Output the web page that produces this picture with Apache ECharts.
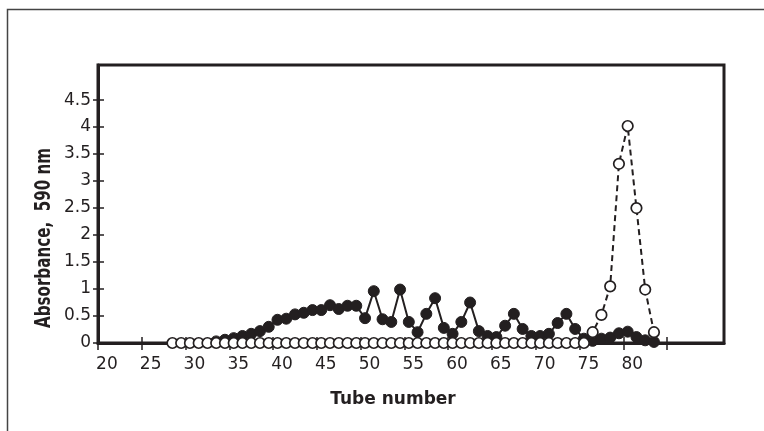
<!DOCTYPE html>
<html>
<head>
<meta charset="utf-8">
<script src="https://cdn.jsdelivr.net/npm/echarts@6/dist/echarts.min.js"></script>
<style>
  html, body { margin: 0; padding: 0; background: #fff; }
  #chart { width: 764px; height: 431px; }
</style>
</head>
<body>
<div id="chart"></div>
<script>
// open circles (dashed line)
var openTubes = [28, 29, 30, 31, 32, 33, 34, 35, 36, 37, 38, 39, 40, 41, 42, 43, 44, 45, 46, 47,
    48, 49, 50, 51, 52, 53, 54, 55, 56, 57, 58, 59, 60, 61, 62, 63, 64, 65, 66, 67,
    68, 69, 70, 71, 72, 73, 74, 75, 76, 77, 78, 79, 80, 81, 82, 83];
var openValues = [0, 0, 0, 0, 0, 0, 0, 0, 0, 0, 0, 0, 0, 0, 0, 0, 0, 0, 0, 0,
    0, 0, 0, 0, 0, 0, 0, 0, 0, 0, 0, 0, 0, 0, 0, 0, 0, 0, 0, 0,
    0, 0, 0, 0, 0, 0, 0, 0, 0.2, 0.52, 1.05, 3.32, 4.02, 2.5, 0.99, 0.2];

// filled circles (solid line)
var filledTubes = [33, 34, 35, 36, 37, 38, 39, 40, 41, 42, 43, 44, 45, 46, 47, 48, 49, 50, 51, 52,
    53, 54, 55, 56, 57, 58, 59, 60, 61, 62, 63, 64, 65, 66, 67, 68, 69, 70, 71, 72,
    73, 74, 75, 76, 77, 78, 79, 80, 81, 82, 83];
var filledValues = [0.03, 0.06, 0.09, 0.13, 0.17, 0.22, 0.3, 0.43, 0.45, 0.53,
    0.56, 0.61, 0.61, 0.7, 0.63, 0.69, 0.69, 0.46, 0.96, 0.44,
    0.39, 0.99, 0.39, 0.2, 0.54, 0.83, 0.28, 0.17, 0.39, 0.75,
    0.22, 0.13, 0.11, 0.32, 0.54, 0.26, 0.13, 0.13, 0.17, 0.37,
    0.54, 0.26, 0.08, 0.04, 0.08, 0.1, 0.18, 0.21, 0.11, 0.05, 0.02];

var xLabels = [20, 25, 30, 35, 40, 45, 50, 55, 60, 65, 70, 75, 80];
var xTicks = [19.5, 24.5, 29.5, 34.5, 39.5, 44.5, 49.5, 54.5, 59.5, 64.5, 69.5, 74.5, 79.5, 84.5];
var yTicks = [0, 0.5, 1, 1.5, 2, 2.5, 3, 3.5, 4, 4.5];

var ink = '#231f20';
var labelFont = { fontFamily: 'DejaVu Sans', fontSize: 17, color: ink };

function pairs(xs, ys) {
    return xs.map(function(x, i) { return [x, ys[i]]; });
}

var chart = echarts.init(document.getElementById('chart'));
chart.setOption({
    backgroundColor: '#fff',
    animation: false,
    grid: {
        left: 98, right: 40, top: 65, bottom: 88,
        show: true, borderColor: ink, borderWidth: 3
    },
    xAxis: [{
        type: 'value', min: 19.5, max: 91,
        axisLine: { show: true, lineStyle: { color: ink, width: 3 } },
        axisTick: { show: true, length: 7, customValues: xTicks, lineStyle: { color: ink, width: 1.5 } },
        axisLabel: Object.assign({ customValues: xLabels, margin: 13, padding: [0, 0, 0, 9] }, labelFont),
        splitLine: { show: false }
    }, {
        type: 'value', min: 19.5, max: 91, position: 'bottom',
        axisLine: { show: false },
        axisTick: { show: true, inside: true, length: 6, customValues: xTicks.slice(1), lineStyle: { color: ink, width: 1.5 } },
        axisLabel: { show: false },
        splitLine: { show: false }
    }],
    yAxis: [{
        type: 'value', min: 0, max: 5.15,
        axisLine: { show: true, lineStyle: { color: ink, width: 3 } },
        axisTick: { show: true, length: 5, customValues: yTicks, lineStyle: { color: ink, width: 1.5 } },
        axisLabel: Object.assign({ customValues: yTicks, margin: 7 }, labelFont),
        splitLine: { show: false }
    }, {
        type: 'value', min: 0, max: 5.15, position: 'left',
        axisLine: { show: false },
        axisTick: { show: true, inside: true, length: 6, customValues: yTicks.slice(1), lineStyle: { color: ink, width: 1.5 } },
        axisLabel: { show: false },
        splitLine: { show: false }
    }],
    graphic: [{
        type: 'polyline',
        shape: { points: [[7.5, 431], [7.5, 9.5], [764, 9.5]] },
        style: { stroke: '#444', lineWidth: 1.5, fill: null }
    }, {
        type: 'text', x: 393, y: 400,
        style: {
            text: 'Tube number', align: 'center', verticalAlign: 'middle',
            font: 'bold 17px "DejaVu Sans"', fill: ink
        }
    }, {
        type: 'text', x: 45, y: 238, rotation: Math.PI / 2, scaleX: 0.72,
        style: {
            text: 'Absorbance,  590 nm', align: 'center', verticalAlign: 'middle',
            font: 'bold 21px "DejaVu Sans"', fill: ink
        }
    }],
    series: [{
        name: 'filled',
        type: 'line',
        data: pairs(filledTubes, filledValues),
        symbol: 'circle', symbolSize: 11,
        itemStyle: { color: ink, borderColor: ink, borderWidth: 1 },
        lineStyle: { color: ink, width: 2 },
        z: 2
    }, {
        name: 'open',
        type: 'line',
        data: pairs(openTubes, openValues),
        symbol: 'circle', symbolSize: 10.5,
        showAllSymbol: true,
        itemStyle: { color: '#fff', borderColor: ink, borderWidth: 1.7 },
        lineStyle: { color: ink, width: 2, type: [6, 4] },
        z: 3
    }]
});
</script>
</body>
</html>
